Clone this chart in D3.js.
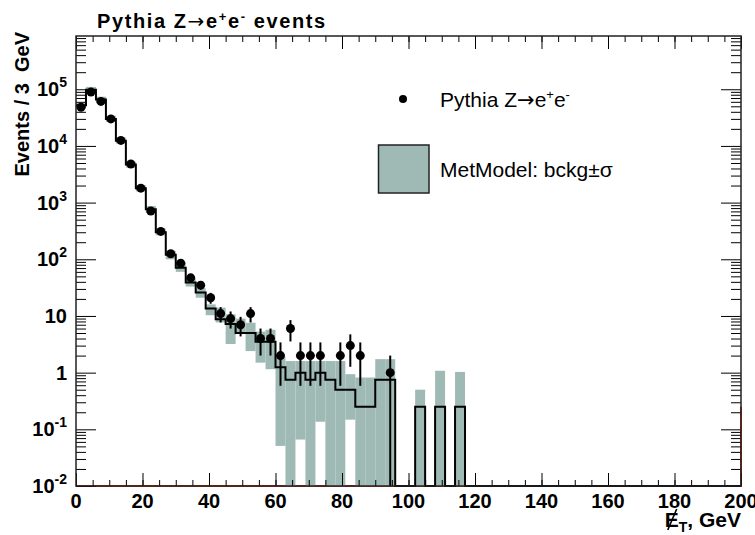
<!DOCTYPE html>
<html><head><meta charset="utf-8">
<script src="https://cdn.jsdelivr.net/npm/d3@7"></script>
<style>body{margin:0;background:#fff}svg{display:block;font-family:"Liberation Sans",Arial,sans-serif}</style>
</head><body><script>
var w=755,h=535;
var binWidth=3;
// Pythia Z->ee events per 3 GeV bin, starting at 0 GeV
var dataCounts=[48000,89000,61000,30000,12500,4800,1800,710,310,125,85,47,35,21,11,9,7,11,4,4,2,6,2,2,2,0,2,3,2,0,0,1];
// MetModel background central value per bin
var bckg=[52000,98000,66000,30000,12400,4700,1800,760,300,120,71,39,26,13.5,8.75,7.25,5,5,3.5,3.5,1.25,0.75,1,0.75,1,0.75,0.5,0.5,0.25,0.25,0.75,0.75,0,0,0.25,0,0.25,0,0.25];
// background +- sigma band
var bandLo=[45000,86000,58000,26500,11000,4150,1580,660,265,100,60,33,21,10.3,7.7,3.2,4.8,2.4,1.5,1.15,0.051,0,0.066,0,0.136,0,0,0.148,0,0,0,0,0,0,0,0,0,0,0];
var bandHi=[58000,110000,74000,34000,14000,5300,2050,870,350,140,90,46,31,16,14,10.7,9,7.6,5.3,5.7,1.9,1.6,1.6,1.6,1.6,1.6,1.6,0.94,0.82,0.82,1.73,1.73,0,0,0.5,0,1.08,0,1.03];
var xMajor=[0,20,40,60,80,100,120,140,160,180,200];
var yDecades=[-2,-1,0,1,2,3,4,5];

var bandColor='#9fbab4';
var svg=d3.select('body').append('svg').attr('width',w).attr('height',h);
var x=d3.scaleLinear().domain([0,200]).range([76,741]);
var yMin=0.01;
var y=d3.scaleLog().domain([yMin,8.7e5]).range([486,36]).clamp(true);
function yv(v){return y(Math.max(v,yMin));}

// red zero line of empty histogram
svg.append('path').attr('d','M'+x(0)+','+y(yMin)+'H'+x(200)+'V'+y(0.25))
  .attr('fill','none').attr('stroke','#e0301e').attr('stroke-width',2);

// band
var bandBins=d3.range(bandHi.length).filter(function(i){return bandHi[i]>0;});
svg.selectAll('rect.band').data(bandBins).enter().append('rect').attr('class','band')
  .attr('x',function(i){return x(i*binWidth);})
  .attr('width',function(i){return x((i+1)*binWidth)-x(i*binWidth);})
  .attr('y',function(i){return yv(bandHi[i]);})
  .attr('height',function(i){return yv(bandLo[i])-yv(bandHi[i]);})
  .attr('fill',bandColor);

// background step histogram
var nBins=Math.ceil(200/binWidth);
var steps=[];
for(var i=0;i<nBins;i++){
  steps.push([Math.min(i*binWidth,200),bckg[i]||0]);
}
steps.push([200,0]);
var line=d3.line().x(function(d){return x(d[0]);}).y(function(d){return yv(d[1]);}).curve(d3.curveStepAfter);
svg.append('path').attr('d',line(steps)).attr('fill','none').attr('stroke','#000').attr('stroke-width',2);

// data points with errors
var pts=d3.range(dataCounts.length).filter(function(i){return dataCounts[i]>0;});
svg.selectAll('line.err').data(pts).enter().append('line').attr('class','err')
  .attr('x1',function(i){return x((i+0.5)*binWidth);})
  .attr('x2',function(i){return x((i+0.5)*binWidth);})
  .attr('y1',function(i){var n=dataCounts[i];return yv(n+Math.sqrt(n));})
  .attr('y2',function(i){var n=dataCounts[i];return yv(n-Math.sqrt(n));})
  .attr('stroke','#000').attr('stroke-width',2);
svg.selectAll('circle.pt').data(pts).enter().append('circle').attr('class','pt')
  .attr('cx',function(i){return x((i+0.5)*binWidth);})
  .attr('cy',function(i){return yv(dataCounts[i]);})
  .attr('r',4.5).attr('fill','#000');

// axes ticks
var xMinor=d3.range(0,201,5);
var yMinor=[];
yDecades.forEach(function(k){for(var m=2;m<10;m++){var v=m*Math.pow(10,k);if(v<8.7e5)yMinor.push(v);}});
var yMaj=yDecades.map(function(k){return Math.pow(10,k);});
function addAxis(ax,tr){svg.append('g').attr('transform',tr).call(ax).call(function(g){g.select('.domain').remove();g.selectAll('line').attr('stroke','#000');});}
addAxis(d3.axisBottom(x).tickValues(xMinor).tickSize(-6).tickFormat(''),'translate(0,486)');
addAxis(d3.axisBottom(x).tickValues(xMajor).tickSize(-13).tickFormat(''),'translate(0,486)');
addAxis(d3.axisTop(x).tickValues(xMinor).tickSize(-6).tickFormat(''),'translate(0,36)');
addAxis(d3.axisTop(x).tickValues(xMajor).tickSize(-13).tickFormat(''),'translate(0,36)');
addAxis(d3.axisLeft(y).tickValues(yMinor).tickSize(-10).tickFormat(''),'translate(76,0)');
addAxis(d3.axisLeft(y).tickValues(yMaj).tickSize(-20).tickFormat(''),'translate(76,0)');
addAxis(d3.axisRight(y).tickValues(yMinor).tickSize(-10).tickFormat(''),'translate(741,0)');
addAxis(d3.axisRight(y).tickValues(yMaj).tickSize(-20).tickFormat(''),'translate(741,0)');

svg.append('rect').attr('x',76).attr('y',36).attr('width',665).attr('height',450)
  .attr('fill','none').attr('stroke','#222').attr('stroke-width',1.5);

// tick labels
svg.selectAll('text.xl').data(xMajor).enter().append('text').attr('class','xl')
  .attr('x',function(d){return x(d);}).attr('y',508).attr('text-anchor','middle')
  .style('font-size','20px').style('font-weight','bold').text(function(d){return d;});
yDecades.forEach(function(k){
  var t=svg.append('text').attr('x',67).attr('y',y(Math.pow(10,k))+7).attr('text-anchor','end')
    .style('font-size','20px').style('font-weight','bold');
  if(k===0)t.text('1');
  else if(k===1)t.text('10');
  else{t.append('tspan').text('10');t.append('tspan').attr('dy',-9).style('font-size','14px').text(k);}
});

// titles
var tt=svg.append('text').attr('x',97).attr('y',28).style('font-size','20px').style('font-weight','bold')
  .style('letter-spacing','1.6px');
tt.append('tspan').text('Pythia Z');
tt.append('tspan').style('font-family','DejaVu Sans').style('font-weight','normal').text('\u2192');
tt.append('tspan').text('e');
tt.append('tspan').attr('dy',-7).style('font-size','13px').text('+');
tt.append('tspan').attr('dy',7).text('e');
tt.append('tspan').attr('dy',-7).style('font-size','13px').text('-');
tt.append('tspan').attr('dy',7).text(' events');

svg.append('text').attr('transform','translate(29,32) rotate(-90)').attr('text-anchor','end')
  .style('font-size','20px').style('font-weight','bold').style('white-space','pre').text('Events / 3  GeV');

var xt=svg.append('text').attr('x',741).attr('y',527).attr('text-anchor','end')
  .style('font-size','21px').style('font-weight','bold');
xt.append('tspan').text('E');
xt.append('tspan').attr('dy',5).style('font-size','14px').text('T');
xt.append('tspan').attr('dy',-5).text(', GeV');
var e0=xt.node().getStartPositionOfChar(0);
svg.append('line').attr('x1',e0.x+3).attr('y1',530).attr('x2',e0.x+12).attr('y2',509)
  .attr('stroke','#000').attr('stroke-width',1.6);

// legend
svg.append('circle').attr('cx',403).attr('cy',99).attr('r',4).attr('fill','#000');
var l1=svg.append('text').attr('x',440).attr('y',107).style('font-size','21px');
l1.append('tspan').text('Pythia Z');
l1.append('tspan').style('font-family','DejaVu Sans').text('\u2192');
l1.append('tspan').text('e');
l1.append('tspan').attr('dy',-8).style('font-size','13px').text('+');
l1.append('tspan').attr('dy',8).text('e');
l1.append('tspan').attr('dy',-8).style('font-size','13px').text('-');
svg.append('rect').attr('x',378.5).attr('y',145).attr('width',50.5).attr('height',48)
  .attr('fill',bandColor).attr('stroke','#222').attr('stroke-width',1.5);
svg.append('text').attr('x',440).attr('y',177).style('font-size','21px').text('MetModel: bckg\u00b1\u03c3');
</script></body></html>
